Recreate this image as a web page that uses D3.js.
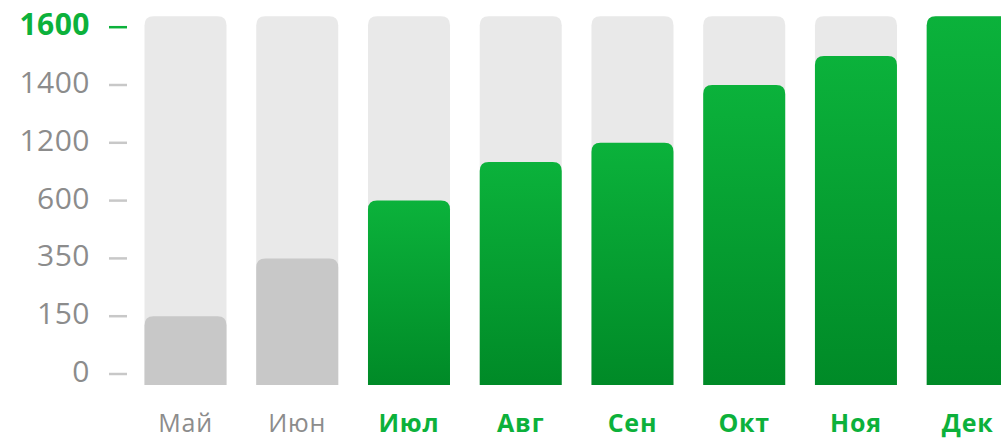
<!DOCTYPE html>
<html>
<head>
<meta charset="utf-8">
<script src="https://cdn.jsdelivr.net/npm/d3@7"></script>
<style>
  html, body { margin: 0; padding: 0; background: #fff; overflow: hidden; }
  text { font-family: "Open Sans", sans-serif; }
</style>
</head>
<body>
<script>
// months and values
var months = ["Май", "Июн", "Июл", "Авг", "Сен", "Окт", "Ноя", "Дек"];
var values = [150, 350, 600, 1000, 1200, 1400, 1500, 1650];
var active = [false, false, true, true, true, true, true, true];
var tickValues = [0, 150, 350, 600, 1200, 1400, 1600];

var width = 1001, height = 439;
var green = "#0cb13b", greenDark = "#008a27";

var svg = d3.select("body").append("svg")
    .attr("width", width)
    .attr("height", height);

var defs = svg.append("defs");
var grad = defs.append("linearGradient")
    .attr("id", "barGrad")
    .attr("x1", 0).attr("y1", 0).attr("x2", 0).attr("y2", 1);
grad.append("stop").attr("offset", "0%").attr("stop-color", "#0bb23b");
grad.append("stop").attr("offset", "100%").attr("stop-color", greenDark);

// ticks are evenly spaced, so the scale is piecewise linear
var y = d3.scaleLinear()
    .domain(tickValues)
    .range(tickValues.map((d, i) => 374 - i * 57.8));

var x = d3.scaleBand()
    .domain(months)
    .range([144.5, 1008.7])
    .paddingInner(0.266)
    .paddingOuter(0);

var pad = 11;
var bgTop = y(1600) - pad;
var base = y(0) + pad;
var r = 9;

function topRounded(x0, y0, w, h) {
    var rr = Math.min(r, h);
    return "M" + x0 + "," + (y0 + h) +
        "V" + (y0 + rr) +
        "Q" + x0 + "," + y0 + " " + (x0 + rr) + "," + y0 +
        "H" + (x0 + w - rr) +
        "Q" + (x0 + w) + "," + y0 + " " + (x0 + w) + "," + (y0 + rr) +
        "V" + (y0 + h) + "Z";
}

// y axis
var axis = svg.append("g");
tickValues.forEach(function(t) {
    var isMax = t === 1600;
    axis.append("line")
        .attr("x1", 109).attr("x2", 127)
        .attr("y1", y(t)).attr("y2", y(t))
        .attr("stroke", isMax ? green : "#c8c8c8")
        .attr("stroke-width", 2.5);
    axis.append("text")
        .attr("x", 90)
        .attr("y", y(t) + 8)
        .attr("text-anchor", "end")
        .attr("font-size", 30)
        .attr("letter-spacing", 0.5)
        .attr("font-weight", isMax ? 700 : 400)
        .attr("fill", isMax ? green : "#8c8c8c")
        .text(t);
});

var bars = svg.selectAll("g.bar")
    .data(months)
    .enter()
    .append("g")
    .attr("class", "bar");

bars.append("path")
    .attr("d", d => topRounded(x(d), bgTop, x.bandwidth(), base - bgTop))
    .attr("fill", "#e9e9e9");

bars.append("path")
    .attr("d", function(d, i) {
        var yt = Math.max(bgTop, y(values[i]));
        return topRounded(x(d), yt, x.bandwidth(), base - yt);
    })
    .attr("fill", (d, i) => active[i] ? "url(#barGrad)" : "#c8c8c8");

bars.append("text")
    .attr("x", d => x(d) + x.bandwidth() / 2)
    .attr("y", 432)
    .attr("text-anchor", "middle")
    .attr("font-size", 25)
    .attr("letter-spacing", 0.8)
    .attr("font-weight", (d, i) => active[i] ? 700 : 400)
    .attr("fill", (d, i) => active[i] ? green : "#8c8c8c")
    .text(d => d);
</script>
</body>
</html>
